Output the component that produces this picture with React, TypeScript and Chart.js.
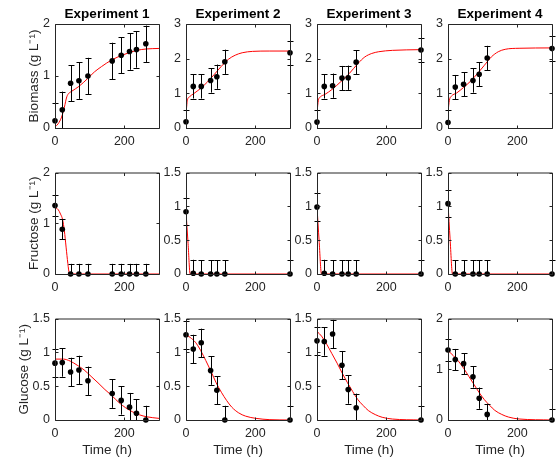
import React, { useEffect, useRef } from 'react';
import { Chart, registerables } from 'chart.js';

Chart.register(...registerables);
Chart.defaults.font.family = '"Liberation Sans", Arial, Helvetica, sans-serif';

// ---------- text ----------
const TITLES = ['Experiment 1', 'Experiment 2', 'Experiment 3', 'Experiment 4'];
const Y_LABELS = ['Biomass (g L⁻¹)', 'Fructose (g L⁻¹)', 'Glucose (g L⁻¹)'];
const X_LABEL = 'Time (h)';
const X_TICKS = [0, 200];
const TICKS_0_2 = [0, 1, 2];
const TICKS_0_3 = [0, 1, 2, 3];
const TICKS_0_15 = [0, 0.5, 1, 1.5];

// ---------- measured data ----------
const TIME_E1 = [0, 21, 45, 69, 95, 165, 191, 215, 235, 262];
const TIME_E2 = [0, 21, 44, 71, 89, 112, 300];
const TIME_E3 = [0, 21, 45, 72, 90, 113, 300];
const TIME_E4 = [0, 21, 45, 72, 90, 113, 300];

const BIOMASS_E1 = [0.14, 0.35, 0.86, 0.91, 1.0, 1.29, 1.4, 1.47, 1.51, 1.62];
const BIOMASS_E2 = [0.18, 1.2, 1.2, 1.37, 1.48, 1.91, 2.17];
const BIOMASS_E3 = [0.17, 1.2, 1.22, 1.44, 1.45, 1.9, 2.25];
const BIOMASS_E4 = [0.16, 1.18, 1.26, 1.37, 1.55, 2.02, 2.29];

const FRUCTOSE_E1 = [1.35, 0.88, 0, 0, 0, 0, 0, 0, 0, 0];
const FRUCTOSE_E2 = [0.92, 0.01, 0, 0, 0, 0, 0];
const FRUCTOSE_E3 = [0.99, 0.01, 0, 0, 0, 0, 0];
const FRUCTOSE_E4 = [1.04, 0, 0, 0, 0, 0, 0];

const GLUCOSE_E1 = [0.84, 0.85, 0.71, 0.74, 0.58, 0.39, 0.29, 0.19, 0.1, 0];
const GLUCOSE_E2 = [1.26, 1.05, 1.14, 0.73, 0.44, 0, 0];
const GLUCOSE_E3 = [1.17, 1.16, 1.27, 0.81, 0.45, 0.18, 0];
const GLUCOSE_E4 = [1.38, 1.19, 1.11, 0.85, 0.43, 0.11, 0];

// error-bar half lengths per row (biomass, fructose, glucose)
const ERRORS = [0.35, 0.2, 0.21];

// ---------- model fits ----------
const FIT_BIO_T_E1 = [0, 9, 19, 27, 34, 39, 49, 69, 94, 114, 134, 164, 194, 234, 264, 300];
const FIT_BIO_E1 = [0.02, 0.08, 0.21, 0.4, 0.6, 0.66, 0.71, 0.8, 0.95, 1.08, 1.18, 1.31, 1.4, 1.49, 1.52, 1.53];
const FIT_BIO_T_E2 = [0, 4, 10, 22, 42, 62, 82, 102, 122, 142, 162, 192, 240, 300];
const FIT_BIO_E2 = [0.41, 0.8, 0.9, 0.99, 1.14, 1.33, 1.55, 1.78, 1.98, 2.1, 2.17, 2.21, 2.22, 2.22];
const FIT_BIO_T_E3 = [0, 4, 10, 23, 43, 68, 93, 118, 138, 158, 178, 218, 300];
const FIT_BIO_E3 = [0.46, 0.8, 0.9, 0.97, 1.11, 1.33, 1.57, 1.86, 2.05, 2.15, 2.2, 2.24, 2.26];
const FIT_BIO_T_E4 = [0, 4, 10, 25, 45, 65, 85, 105, 125, 145, 165, 205, 300];
const FIT_BIO_E4 = [0.46, 0.8, 0.92, 1.01, 1.17, 1.35, 1.57, 1.81, 2.05, 2.2, 2.27, 2.3, 2.31];

const FIT_FRU_T_E1 = [0, 9, 16, 22, 27, 32, 37, 41, 44, 300];
const FIT_FRU_E1 = [1.31, 1.27, 1.18, 1.07, 0.85, 0.53, 0.21, 0.02, 0, 0];
const FIT_FRU_T_E2 = [0, 6, 12, 300];
const FIT_FRU_E2 = [0.92, 0.45, 0, 0];
const FIT_FRU_T_E3 = [0, 6, 13, 300];
const FIT_FRU_E3 = [0.99, 0.5, 0, 0];
const FIT_FRU_T_E4 = [0, 6, 13, 300];
const FIT_FRU_E4 = [1.04, 0.52, 0, 0];

const FIT_GLU_T_E1 = [0, 24, 44, 64, 84, 104, 124, 144, 164, 184, 204, 224, 244, 264, 300];
const FIT_GLU_E1 = [0.9, 0.9, 0.87, 0.81, 0.74, 0.645, 0.55, 0.45, 0.36, 0.26, 0.18, 0.12, 0.076, 0.048, 0.024];
const FIT_GLU_T_E2 = [0, 12, 27, 42, 57, 72, 87, 102, 117, 132, 152, 172, 202, 242, 300];
const FIT_GLU_E2 = [1.26, 1.22, 1.15, 1.03, 0.88, 0.72, 0.55, 0.41, 0.29, 0.19, 0.105, 0.057, 0.024, 0.005, 0];
const FIT_GLU_T_E3 = [0, 13, 28, 43, 58, 73, 88, 103, 118, 133, 148, 168, 188, 218, 300];
const FIT_GLU_E3 = [1.31, 1.24, 1.12, 0.98, 0.84, 0.69, 0.55, 0.42, 0.3, 0.215, 0.14, 0.08, 0.04, 0.014, 0];
const FIT_GLU_T_E4 = [0, 15, 30, 45, 60, 75, 90, 105, 120, 135, 155, 175, 205, 300];
const FIT_GLU_E4 = [1.37, 1.27, 1.16, 1.02, 0.86, 0.7, 0.54, 0.4, 0.29, 0.19, 0.11, 0.057, 0.02, 0];

const PANELS = [
  [
    { t: TIME_E1, v: BIOMASS_E1, ft: FIT_BIO_T_E1, fv: FIT_BIO_E1, yt: TICKS_0_2 },
    { t: TIME_E2, v: BIOMASS_E2, ft: FIT_BIO_T_E2, fv: FIT_BIO_E2, yt: TICKS_0_3 },
    { t: TIME_E3, v: BIOMASS_E3, ft: FIT_BIO_T_E3, fv: FIT_BIO_E3, yt: TICKS_0_3 },
    { t: TIME_E4, v: BIOMASS_E4, ft: FIT_BIO_T_E4, fv: FIT_BIO_E4, yt: TICKS_0_3 },
  ],
  [
    { t: TIME_E1, v: FRUCTOSE_E1, ft: FIT_FRU_T_E1, fv: FIT_FRU_E1, yt: TICKS_0_2 },
    { t: TIME_E2, v: FRUCTOSE_E2, ft: FIT_FRU_T_E2, fv: FIT_FRU_E2, yt: TICKS_0_15 },
    { t: TIME_E3, v: FRUCTOSE_E3, ft: FIT_FRU_T_E3, fv: FIT_FRU_E3, yt: TICKS_0_15 },
    { t: TIME_E4, v: FRUCTOSE_E4, ft: FIT_FRU_T_E4, fv: FIT_FRU_E4, yt: TICKS_0_15 },
  ],
  [
    { t: TIME_E1, v: GLUCOSE_E1, ft: FIT_GLU_T_E1, fv: FIT_GLU_E1, yt: TICKS_0_15 },
    { t: TIME_E2, v: GLUCOSE_E2, ft: FIT_GLU_T_E2, fv: FIT_GLU_E2, yt: TICKS_0_15 },
    { t: TIME_E3, v: GLUCOSE_E3, ft: FIT_GLU_T_E3, fv: FIT_GLU_E3, yt: TICKS_0_15 },
    { t: TIME_E4, v: GLUCOSE_E4, ft: FIT_GLU_T_E4, fv: FIT_GLU_E4, yt: TICKS_0_2 },
  ],
];

// ---------- layout ----------
const COL_LEFT = [55, 186, 317, 448];
const ROW_TOP = [24, 170, 316];
const Y_TITLE_PAD = [26, 26, 16];
const PLOT_W = 100;
const PLOT_H = 104;
const AXIS_COLOR = '#262626';

const framePlugin = {
  id: 'frameAndErrors',
  afterDatasetsDraw(chart: any) {
    const { ctx, chartArea } = chart;
    const xs = chart.scales.x;
    const ys = chart.scales.y;
    ctx.save();
    ctx.beginPath();
    ctx.rect(0, chartArea.top - 0.5, chart.width, chartArea.bottom - chartArea.top + 1.5);
    ctx.clip();
    ctx.strokeStyle = '#000';
    ctx.lineWidth = 1;
    chart.data.datasets.forEach((ds: any) => {
      if (ds.errs == null) return;
      ds.data.forEach((p: any) => {
        const x = Math.round(xs.getPixelForValue(p.x)) + 0.5;
        const y1 = ys.getPixelForValue(p.y + ds.errs);
        const y0 = ys.getPixelForValue(p.y - ds.errs);
        ctx.beginPath();
        ctx.moveTo(x, y0);
        ctx.lineTo(x, y1);
        ctx.moveTo(x - 3, Math.round(y1) + 0.5);
        ctx.lineTo(x + 3, Math.round(y1) + 0.5);
        ctx.moveTo(x - 3, Math.round(y0) + 0.5);
        ctx.lineTo(x + 3, Math.round(y0) + 0.5);
        ctx.stroke();
      });
    });
    ctx.restore();
  },
  afterDraw(chart: any) {
    const { ctx, chartArea } = chart;
    const xs = chart.scales.x;
    const ys = chart.scales.y;
    const l = chartArea.left + 0.5;
    const t = chartArea.top + 0.5;
    const r = chartArea.right + 0.5;
    const b = chartArea.bottom + 0.5;
    const tl = 3;
    ctx.save();
    ctx.strokeStyle = AXIS_COLOR;
    ctx.lineWidth = 1;
    ctx.beginPath();
    ctx.rect(l, t, r - l, b - t);
    xs.ticks.forEach((tk: any) => {
      const x = Math.round(xs.getPixelForValue(tk.value)) + 0.5;
      ctx.moveTo(x, b);
      ctx.lineTo(x, b - tl);
      ctx.moveTo(x, t);
      ctx.lineTo(x, t + tl);
    });
    ys.ticks.forEach((tk: any) => {
      const y = Math.round(ys.getPixelForValue(tk.value)) + 0.5;
      ctx.moveTo(l, y);
      ctx.lineTo(l + tl, y);
      ctx.moveTo(r, y);
      ctx.lineTo(r - tl, y);
    });
    ctx.stroke();
    ctx.restore();
  },
};

function Panel({ row, col }: { row: number; col: number }) {
  const ref = useRef<HTMLCanvasElement | null>(null);
  const L = col === 0 ? 55 : 35;
  const T = row === 0 ? 24 : 10;
  const B = row === 2 ? 44 : 22;
  const R = 8;
  const W = L + PLOT_W + R;
  const H = T + PLOT_H + B;

  useEffect(() => {
    const p = PANELS[row][col];
    const yt = p.yt;
    const pts = p.t.map((t: number, i: number) => ({ x: t, y: p.v[i] }));
    const fit = p.ft.map((t: number, i: number) => ({ x: t, y: p.fv[i] }));
    const chart = new Chart(ref.current as HTMLCanvasElement, {
      type: 'scatter',
      data: {
        datasets: [
          {
            type: 'scatter',
            data: pts,
            backgroundColor: '#000',
            borderColor: '#000',
            pointRadius: 2.8,
            borderWidth: 0,
            showLine: false,
            clip: false,
            order: 0,
            errs: ERRORS[row],
          } as any,
          {
            type: 'line',
            data: fit,
            borderColor: '#ff0000',
            borderWidth: 1,
            pointRadius: 0,
            showLine: true,
            fill: false,
            cubicInterpolationMode: 'monotone',
            order: 1,
          } as any,
        ],
      },
      options: {
        animation: false,
        responsive: false,
        devicePixelRatio: 1,
        events: [],
        layout: { padding: 0 },
        plugins: { legend: { display: false }, tooltip: { enabled: false }, title: { display: false } },
        scales: {
          x: {
            type: 'linear',
            position: 'bottom',
            min: 0,
            max: 300,
            grid: { display: false, drawTicks: false },
            border: { display: false },
            ticks: { font: { size: 12.5 }, color: AXIS_COLOR, padding: 6, maxRotation: 0 },
            afterBuildTicks: (s: any) => {
              s.ticks = X_TICKS.map((v) => ({ value: v }));
            },
            afterFit: (s: any) => {
              s.height = B;
            },
            title: {
              display: row === 2,
              text: X_LABEL,
              font: { size: 13.5 },
              color: AXIS_COLOR,
              padding: { top: 0, bottom: 6 },
            },
          },
          xt: {
            type: 'linear',
            position: 'top',
            min: 0,
            max: 300,
            grid: { display: false, drawTicks: false },
            border: { display: false },
            ticks: { display: false },
            afterFit: (s: any) => {
              s.height = T;
            },
            title: {
              display: row === 0,
              text: TITLES[col],
              font: { size: 13.5, weight: 'bold' },
              color: '#000',
              padding: { top: 6, bottom: 0 },
            },
          },
          y: {
            type: 'linear',
            position: 'left',
            min: yt[0],
            max: yt[yt.length - 1],
            grid: { display: false, drawTicks: false },
            border: { display: false },
            ticks: {
              font: { size: 12.5 },
              color: AXIS_COLOR,
              padding: 5,
              callback: (v: any) => String(v),
            },
            afterBuildTicks: (s: any) => {
              s.ticks = yt.map((v: number) => ({ value: v }));
            },
            afterFit: (s: any) => {
              s.width = L;
            },
            title: {
              display: col === 0,
              text: Y_LABELS[row],
              font: { size: 13.5 },
              color: AXIS_COLOR,
              padding: { top: Y_TITLE_PAD[row], bottom: 0 },
            },
          },
        },
      } as any,
      plugins: [framePlugin],
    });
    return () => chart.destroy();
  }, []);

  return (
    <canvas
      ref={ref}
      width={W}
      height={H}
      style={{
        position: 'absolute',
        left: COL_LEFT[col] - L,
        top: ROW_TOP[row] - T,
        width: W,
        height: H,
      }}
    />
  );
}

export default function App() {
  const cells: any[] = [];
  for (let r = 0; r < 3; r++) {
    for (let c = 0; c < 4; c++) {
      cells.push(<Panel key={`${r}-${c}`} row={r} col={c} />);
    }
  }
  return (
    <div style={{ position: 'absolute', left: 0, top: 0, width: 556, height: 464, background: '#fff' }}>
      {cells}
    </div>
  );
}
